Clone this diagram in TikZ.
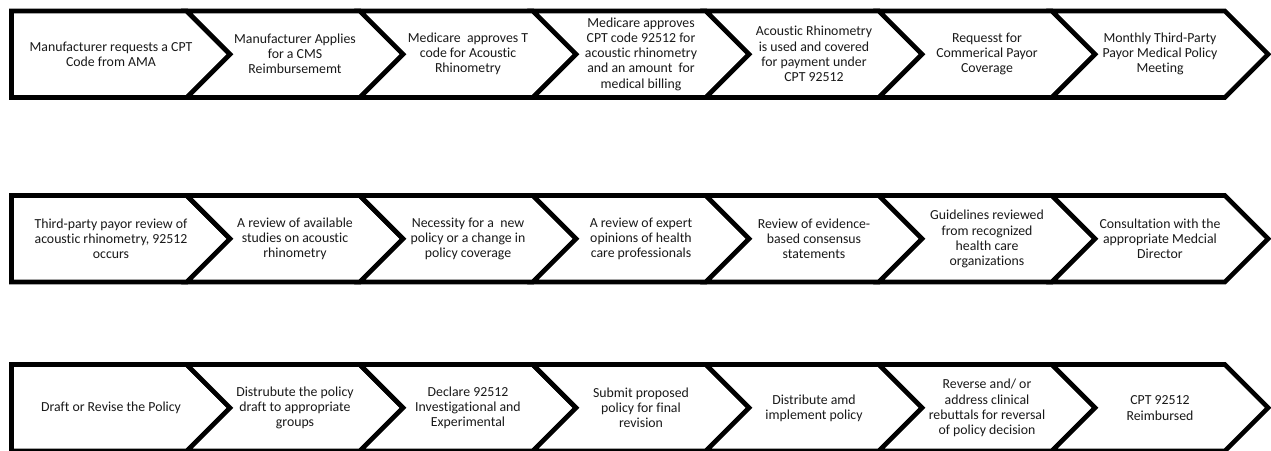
\documentclass[tikz,border=0pt]{standalone}
\usepackage{fontspec}
\setmainfont{Carlito}[Ligatures=NoCommon]
\begin{document}
\begin{tikzpicture}[x=1pt,y=-1pt,
  outline/.style={draw=black, line width=4.6pt, line join=miter, fill=white},
  steptext/.style={align=center, font=\fontsize{13.8}{15.2}\selectfont, text=black!90, inner sep=0pt}]
\useasboundingbox (0,0) rectangle (1271,450);

% one row of seven chevrons: #1 = top edge, #2 = bottom edge
\newcommand\chevronrow[2]{%
  \pgfmathsetmacro\rtop{#1}%
  \pgfmathsetmacro\rbot{#2}%
  \pgfmathsetmacro\rmid{(#1+#2)/2}%
  \pgfmathsetmacro\rdep{(#2-#1)/2}%
  \draw[outline] (11.5,\rtop) -- ({230-\rdep},\rtop) -- (230,\rmid)
     -- ({230-\rdep},\rbot) -- (11.5,\rbot) -- cycle;
  \foreach \i in {1,...,6}{%
    \pgfmathsetmacro\tprev{230+173*(\i-1)}%
    \pgfmathsetmacro\tcur{230+173*\i}%
    \draw[outline] ({\tprev-\rdep},\rtop) -- ({\tcur-\rdep},\rtop) -- (\tcur,\rmid)
       -- ({\tcur-\rdep},\rbot) -- ({\tprev-\rdep},\rbot) -- (\tprev,\rmid) -- cycle;
  }%
}

\chevronrow{11}{97.5}
\chevronrow{195.5}{282}
\chevronrow{364.5}{451}

% row 1
\node[steptext] (a1) at (111,54) {Manufacturer requests a CPT\\Code from AMA};
\node[steptext] (a2) at (295,54) {Manufacturer Applies\\for a CMS\\Reimbursememt};
\node[steptext] (a3) at (468,54) {Medicare\ \ approves T\\code for Acoustic\\Rhinometry};
\node[steptext] (a4) at (641,54) {Medicare approves\\CPT code 92512 for\\acoustic rhinometry\\and an amount\ \ for\\medical billing};
\node[steptext] (a5) at (814,54) {Acoustic Rhinometry\\is used and covered\\for payment under\\CPT 92512};
\node[steptext] (a6) at (987,54) {Requesst for\\Commerical Payor\\Coverage};
\node[steptext] (a7) at (1160,54) {Monthly Third-Party\\Payor Medical Policy\\Meeting};

% row 2
\node[steptext] (b1) at (111,239) {Third-party payor review of\\acoustic rhinometry, 92512\\occurs};
\node[steptext] (b2) at (295,239) {A review of available\\studies on acoustic\\rhinometry};
\node[steptext] (b3) at (468,239) {Necessity for a\ \ new\\policy or a change in\\policy coverage};
\node[steptext] (b4) at (641,239) {A review of expert\\opinions of health\\care professionals};
\node[steptext] (b5) at (814,239) {Review of evidence-\\based consensus\\statements};
\node[steptext] (b6) at (987,239) {Guidelines reviewed\\from recognized\\health care\\organizations};
\node[steptext] (b7) at (1160,239) {Consultation with the\\appropriate Medcial\\Director};

% row 3
\node[steptext] (c1) at (111,408) {Draft or Revise the Policy};
\node[steptext] (c2) at (295,408) {Distrubute the policy\\draft to appropriate\\groups};
\node[steptext] (c3) at (468,408) {Declare 92512\\Investigational and\\Experimental};
\node[steptext] (c4) at (641,408) {Submit proposed\\policy for final\\revision};
\node[steptext] (c5) at (814,408) {Distribute amd\\implement policy};
\node[steptext] (c6) at (987,408) {Reverse and/ or\\address clinical\\rebuttals for reversal\\of policy decision};
\node[steptext] (c7) at (1160,408) {CPT 92512\\Reimbursed};
\end{tikzpicture}
\end{document}
